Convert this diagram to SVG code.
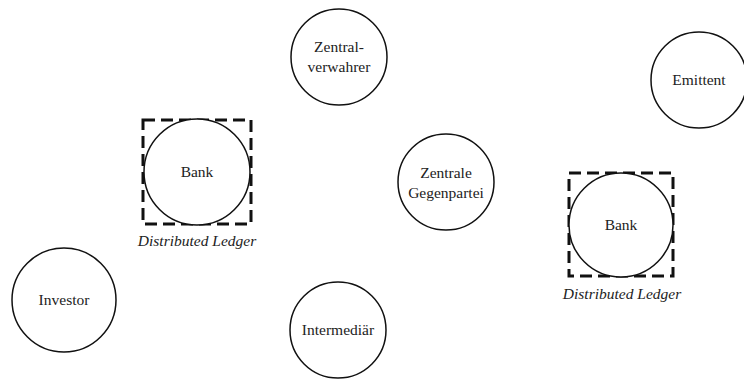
<svg xmlns="http://www.w3.org/2000/svg" width="744" height="381" viewBox="0 0 744 381">
<style>
.n{fill:#fff;stroke:#111;stroke-width:1.5}
.t{font-family:"Liberation Serif","Times New Roman",serif;font-size:15.5px;fill:#222;text-anchor:middle}
.i{font-family:"Liberation Serif","Times New Roman",serif;font-size:15.5px;font-style:italic;fill:#222;text-anchor:middle}
.dl{fill:none;stroke:#111;stroke-width:3;stroke-dasharray:12 6}
</style>
<rect width="744" height="381" fill="#fff"/>
<g id="connectors"></g>
<g id="zentralverwahrer">
<circle class="n" cx="339" cy="57" r="48"/>
<text class="t" x="339" y="52">Zentral-</text>
<text class="t" x="339" y="72">verwahrer</text>
</g>
<g id="emittent">
<circle class="n" cx="699" cy="80" r="48"/>
<text class="t" x="699" y="85">Emittent</text>
</g>
<g id="bank1">
<rect class="dl" x="143" y="120" width="108" height="104"/>
<circle class="n" cx="197" cy="172" r="53"/>
<text class="t" x="197" y="177">Bank</text>
<text class="i" x="197" y="246">Distributed Ledger</text>
</g>
<g id="gegenpartei">
<circle class="n" cx="446" cy="182" r="48"/>
<text class="t" x="446" y="178">Zentrale</text>
<text class="t" x="446" y="198">Gegenpartei</text>
</g>
<g id="bank2">
<rect class="dl" x="569" y="173" width="104" height="103"/>
<circle class="n" cx="621" cy="225" r="52"/>
<text class="t" x="621" y="230">Bank</text>
<text class="i" x="622" y="299">Distributed Ledger</text>
</g>
<g id="investor">
<circle class="n" cx="64" cy="300" r="52"/>
<text class="t" x="64" y="305">Investor</text>
</g>
<g id="intermediaer">
<circle class="n" cx="338" cy="330" r="48"/>
<text class="t" x="338" y="335">Intermediär</text>
</g>
</svg>
